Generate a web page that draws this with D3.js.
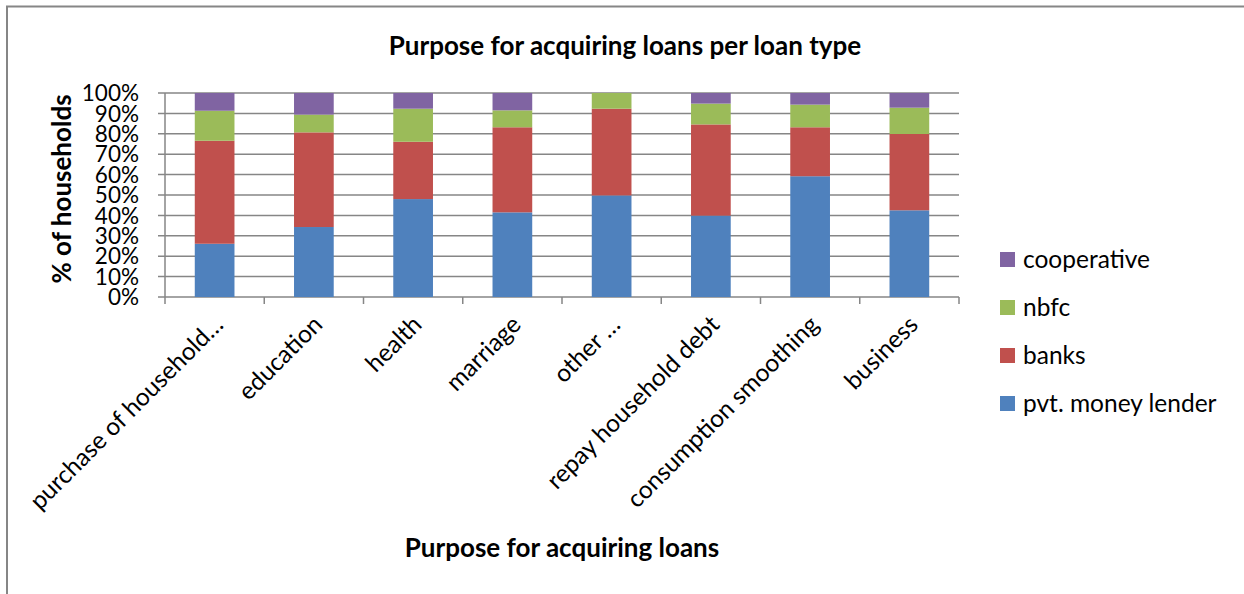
<!DOCTYPE html>
<html><head><meta charset="utf-8">
<script src="https://cdn.jsdelivr.net/npm/d3@7"></script>
<style>body{margin:0;background:#fff}svg{display:block}text{font-family:Lato,"Open Sans",sans-serif;fill:#000}</style>
</head><body><svg id="c" width="1244" height="594"></svg>
<script>
const categories = ["purchase of household…","education","health","marriage","other …","repay household debt","consumption smoothing","business"];
const seriesNames = ["pvt. money lender","banks","nbfc","cooperative"];
const pvtMoneyLender = [26.1,34.3,48.0,41.5,49.8,39.9,59.2,42.5];
const banks = [50.5,46.4,28.1,41.7,42.5,44.7,24.0,37.4];
const nbfc = [14.7,8.7,16.2,8.3,7.7,10.2,11.1,12.9];
const cooperative = [8.7,10.6,7.7,8.5,0,5.2,5.7,7.2];
const colors = ["#4F81BD","#C0504D","#9BBB59","#8064A2"];
const yTicks = [0,0.1,0.2,0.3,0.4,0.5,0.6,0.7,0.8,0.9,1];

const svg = d3.select("#c");
svg.append("rect").attr("x",7).attr("y",6.5).attr("width",1300).attr("height",700)
  .attr("fill","none").attr("stroke","#868686").attr("stroke-width",2);

const m = {l:165, r:959, t:93, b:297};
const rows = categories.map((c,i)=>{
  const vals=[pvtMoneyLender[i],banks[i],nbfc[i],cooperative[i]];
  const tot=d3.sum(vals);
  const o={cat:c};
  seriesNames.forEach((s,j)=>o[s]=vals[j]/tot);
  return o;
});
const x = d3.scaleBand().domain(categories).range([m.l,m.r]).paddingInner(0.6).paddingOuter(0.3);
const xb = d3.scaleBand().domain(categories).range([m.l,m.r]);
const y = d3.scaleLinear().domain([0,1]).range([m.b,m.t]);

svg.append("g").selectAll("line").data(yTicks).join("line")
  .attr("x1",m.l-7).attr("x2",m.r).attr("y1",d=>y(d)).attr("y2",d=>y(d))
  .attr("stroke","#868686").attr("stroke-width",1.5);
svg.append("line").attr("x1",m.l).attr("x2",m.l).attr("y1",m.t).attr("y2",m.b+7).attr("stroke","#868686").attr("stroke-width",1.5);
svg.append("g").selectAll("line").data(categories).join("line")
  .attr("x1",d=>xb(d)+xb.bandwidth()).attr("x2",d=>xb(d)+xb.bandwidth()).attr("y1",m.b).attr("y2",m.b+7)
  .attr("stroke","#868686").attr("stroke-width",1.5);

const stack = d3.stack().keys(seriesNames)(rows);
svg.append("g").selectAll("g").data(stack).join("g").attr("fill",(d,i)=>colors[i])
  .selectAll("rect").data(d=>d).join("rect")
  .attr("x",d=>x(d.data.cat)).attr("width",x.bandwidth())
  .attr("y",d=>y(d[1])).attr("height",d=>y(d[0])-y(d[1]));

svg.append("g").selectAll("text").data(yTicks).join("text")
  .attr("x",139).attr("y",d=>y(d)).attr("dy","0.36em").attr("text-anchor","end")
  .style("font-size","22.5px").text(d=>Math.round(d*100)+"%");

svg.append("g").selectAll("text").data(categories).join("text")
  .attr("transform",d=>`translate(${xb(d)+xb.bandwidth()/2-2},${m.b+17}) rotate(-45)`)
  .attr("text-anchor","end").attr("dy","0.7em")
  .style("font-size","24.5px").text(d=>d);

svg.append("text").attr("x",625).attr("y",55).attr("text-anchor","middle")
  .style("font-size","26px").style("font-weight","bold").text("Purpose for acquiring loans per loan type");
svg.append("text").attr("x",562).attr("y",557).attr("text-anchor","middle")
  .style("font-size","26px").style("font-weight","bold").text("Purpose for acquiring loans");
svg.append("text").attr("transform","translate(71,189) rotate(-90)").attr("text-anchor","middle")
  .style("font-size","26px").style("font-weight","bold").text("% of households");

const leg = svg.append("g").selectAll("g").data(seriesNames.slice().reverse()).join("g")
  .attr("transform",(d,i)=>`translate(1000,${259+i*48})`);
leg.append("rect").attr("x",0).attr("y",-7).attr("width",15).attr("height",15)
  .attr("fill",d=>colors[seriesNames.indexOf(d)]);
leg.append("text").attr("x",23).attr("y",0).attr("dy","0.35em").style("font-size","24.5px").text(d=>d);
</script></body></html>
